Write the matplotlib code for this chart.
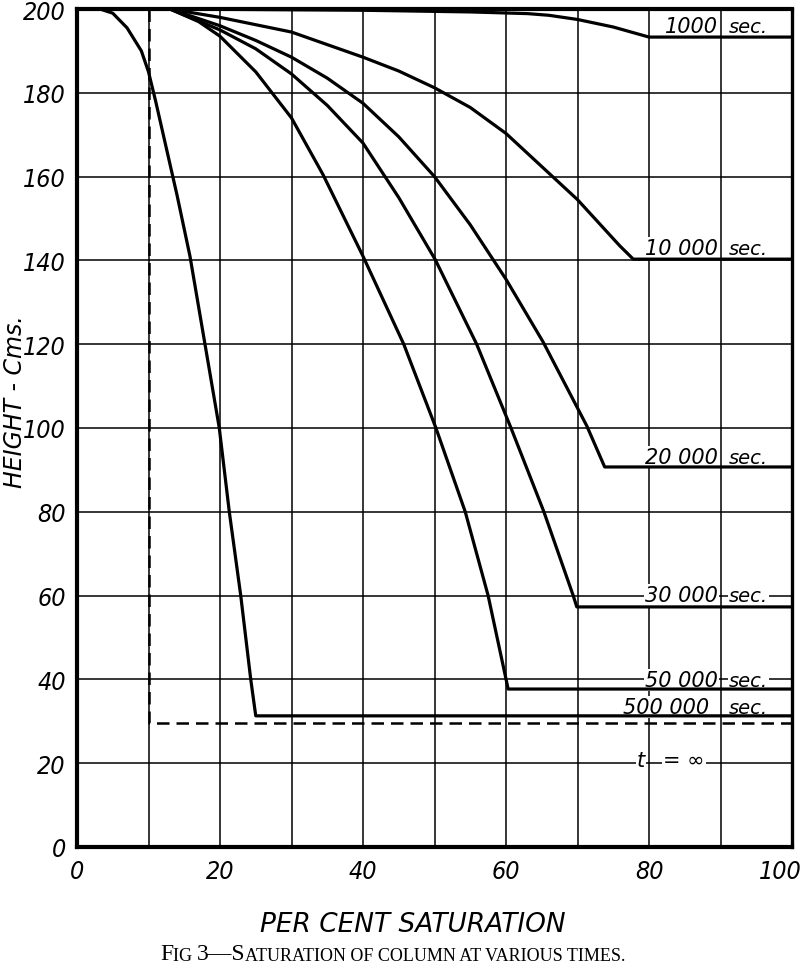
import matplotlib
matplotlib.use("Agg")
import matplotlib.pyplot as plt
from matplotlib.transforms import offset_copy

# ---------------- data ----------------
x_1000 = [13, 40, 55, 63, 66, 70, 75, 80, 100]
y_1000 = [200, 199.7, 199.3, 198.9, 198.5, 197.5, 195.7, 193.3, 193.3]

x_10000 = [13, 20, 30, 40, 45, 50, 55, 60, 66.2, 70, 75.9, 77.8, 100]
y_10000 = [200, 198, 194.5, 188.5, 185.2, 181.2, 176.5, 170.3, 160.5, 154.5, 143.5, 140.3, 140.3]

x_20000 = [13, 20, 25, 30, 35, 40, 45, 50, 55, 60, 65.2, 71.3, 73.8, 100]
y_20000 = [200, 196, 192.5, 188.5, 183.5, 177.5, 169.5, 160, 148.5, 135.5, 120.5, 100.5, 90.7, 90.7]

x_30000 = [13, 20, 25, 30, 35, 40, 45, 50.1, 55.9, 60.7, 65.3, 69.4, 69.9, 100]
y_30000 = [200, 195, 190.5, 184.5, 177, 168, 155, 140.2, 120, 100, 80, 60, 57.3, 57.3]

x_50000 = [13, 17, 20, 25, 30, 34.4, 40, 45.7, 50.2, 54.3, 57.5, 60.3, 100]
y_50000 = [200, 197, 193.5, 185, 174, 160.5, 141, 120, 100, 80, 60, 37.7, 37.7]

x_500000 = [3.2, 5, 7, 9, 10, 11, 12, 13, 14, 15.8, 17.8, 19.9, 21.3, 22.9, 24.3, 25.0, 100]
y_500000 = [200, 199, 195.5, 190, 185, 178, 170.5, 163, 155.5, 141, 121, 100, 80, 60, 40, 31.3, 31.3]

x_inf = [10, 10, 100]
y_inf = [200, 29.6, 29.6]

x_ticks = [0, 10, 20, 30, 40, 50, 60, 70, 80, 90, 100]
x_tick_labels = ['0', '', '20', '', '40', '', '60', '', '80', '', '100']
y_ticks = [0, 20, 40, 60, 80, 100, 120, 140, 160, 180, 200]
y_tick_labels = ['0', '20', '40', '60', '80', '100', '120', '140', '160', '180', '200']

curve_labels = ['1000', '10 000', '20 000', '30 000', '50 000', '500 000']
label_y = [194.6, 141.6, 91.6, 58.6, 38.4, 32.0]
label_num_right = [89.6, 89.6, 89.6, 89.6, 89.6, 88.4]

x_label = 'PER CENT SATURATION'
y_label = 'HEIGHT - Cms.'
caption_pieces = ['F', 'IG ', '3\u2014S', 'ATURATION OF COLUMN AT VARIOUS TIMES.']
caption_big = [True, False, True, False]

# ---------------- figure ----------------
fig = plt.figure(figsize=(8.0, 9.78), dpi=100)
ax = fig.add_axes([77/800, 1 - 848/978, (792-77)/800, (848-10)/978])

ax.set_xlim(0, 100)
ax.set_ylim(0, 200)
ax.set_axisbelow(True)
ax.grid(True, color='black', linewidth=1.1)

lw = 2.3
for xs, ys in [(x_1000, y_1000), (x_10000, y_10000), (x_20000, y_20000),
               (x_30000, y_30000), (x_50000, y_50000), (x_500000, y_500000)]:
    ax.plot(xs, ys, color='black', linewidth=lw, zorder=3,
            solid_joinstyle='round', solid_capstyle='butt')

ax.plot(x_inf, y_inf, color='black', linewidth=1.8, dashes=(5, 2.8), zorder=3)

font = dict(family='DejaVu Sans', style='oblique')
tickfont = dict(family='DejaVu Sans', style='oblique', stretch='condensed')

ax.set_xticks(x_ticks)
ax.set_xticklabels(x_tick_labels, fontsize=18, **tickfont)
ax.set_yticks(y_ticks)
ax.set_yticklabels(y_tick_labels, fontsize=18, **tickfont)
ax.tick_params(axis='both', length=0)
ax.tick_params(axis='x', pad=9)
ax.tick_params(axis='y', pad=8)
last = ax.get_xticklabels()[-1]
last.set_transform(offset_copy(last.get_transform(), fig=fig, x=-12, y=0, units='dots'))

for side in ['left', 'bottom', 'top']:
    ax.spines[side].set_linewidth(3.0)
ax.spines['right'].set_linewidth(2.4)

bb = dict(facecolor='white', edgecolor='none', pad=0.8)
for txt, yy, xr in zip(curve_labels, label_y, label_num_right):
    ax.text(xr, yy, txt, ha='right', va='baseline', fontsize=15, zorder=2,
            bbox=bb, **font)
    ax.text(91.2, yy, 'sec.', ha='left', va='baseline', fontsize=14, zorder=2,
            bbox=bb, **font)

ax.text(78.9, 19.3, 't', ha='center', va='baseline', fontsize=15, zorder=2,
        bbox=bb, **font)
ax.text(82.0, 19.3, '= \u221e', ha='left', va='baseline', fontsize=15, zorder=2,
        bbox=bb, **font)

fig.text(413/800, 1 - 925/978, x_label, ha='center', va='center',
         fontsize=19, **font)
fig.text(15/800, 1 - 402/978, y_label, ha='center', va='center',
         rotation=90, fontsize=17, **font)

# caption in small caps, chained piece after piece
serif = dict(family='Liberation Serif')
prev_anchor = None
for t, big in zip(caption_pieces, caption_big):
    size = 17 if big else 13
    if prev_anchor is None:
        prev_anchor = fig.text(160/800, 1 - 965/978, t, ha='left', va='bottom',
                               fontsize=size, **serif)
    else:
        prev_anchor = ax.annotate(t, xy=(1, 0), xycoords=prev_anchor,
                                  ha='left', va='bottom', fontsize=size,
                                  annotation_clip=False, **serif)

fig.savefig('out.png', dpi=100)
